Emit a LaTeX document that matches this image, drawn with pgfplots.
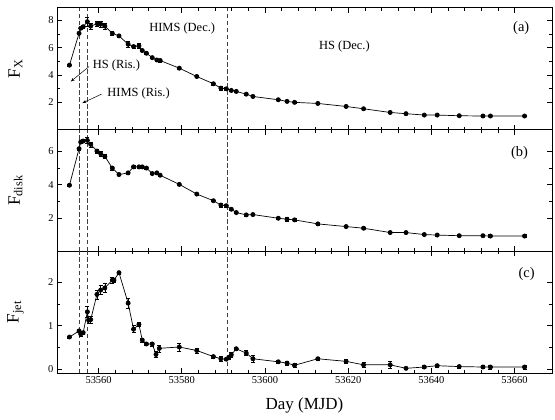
\documentclass[border=0pt]{standalone}
\usepackage{fontspec}
\setmainfont{Liberation Serif}
\usepackage{pgfplots}
\usepackage{pgfplotstable}
\pgfplotsset{compat=1.18}
\usetikzlibrary{arrows.meta}

\pgfplotstableread{
x y e
53553.0 4.72 0.05
53555.3 7.05 0.10
53555.7 7.42 0.10
53556.3 7.53 0.10
53557.3 7.90 0.30
53558.1 7.58 0.20
53559.7 7.75 0.20
53560.5 7.72 0.20
53561.5 7.58 0.20
53563.3 7.05 0.15
53564.9 6.86 0.08
53567.1 6.25 0.20
53568.4 6.08 0.10
53569.7 6.13 0.20
53570.5 5.79 0.08
53571.5 5.59 0.08
53572.9 5.27 0.08
53574.0 5.10 0.08
53574.8 5.06 0.10
53579.4 4.50 0.10
53583.6 3.89 0.08
53587.6 3.36 0.08
53589.4 3.04 0.15
53590.7 2.99 0.10
53591.9 2.87 0.08
53593.1 2.80 0.08
53595.5 2.60 0.08
53597.1 2.43 0.08
53603.2 2.19 0.05
53605.3 2.07 0.05
53607.1 2.00 0.05
53612.7 1.92 0.05
53619.5 1.70 0.05
53623.7 1.53 0.05
53630.1 1.26 0.05
53633.9 1.17 0.05
53638.3 1.07 0.05
53641.4 1.07 0.05
53646.7 1.02 0.05
53652.4 1.00 0.05
53654.2 1.00 0.05
53662.4 1.00 0.05
}\dataX

\pgfplotstableread{
x y e
53553.0 3.97 0.05
53555.3 6.16 0.08
53555.7 6.56 0.08
53556.3 6.62 0.08
53557.3 6.66 0.20
53558.1 6.42 0.15
53559.6 6.02 0.12
53560.5 5.86 0.15
53561.5 5.70 0.12
53563.3 5.00 0.12
53564.9 4.61 0.06
53567.1 4.71 0.06
53568.4 5.07 0.08
53569.7 5.07 0.06
53570.5 5.07 0.06
53571.5 5.00 0.06
53572.9 4.67 0.06
53574.0 4.71 0.06
53574.8 4.57 0.06
53579.4 4.02 0.08
53583.6 3.44 0.06
53587.6 3.04 0.06
53589.4 2.78 0.12
53590.7 2.74 0.08
53591.9 2.53 0.06
53593.1 2.33 0.06
53595.5 2.19 0.06
53597.1 2.21 0.06
53603.2 1.99 0.06
53605.3 1.93 0.10
53607.1 1.89 0.08
53612.7 1.65 0.06
53619.5 1.49 0.06
53623.7 1.39 0.06
53630.1 1.13 0.06
53633.9 1.13 0.06
53638.3 1.01 0.06
53641.4 0.98 0.06
53646.7 0.94 0.06
53652.4 0.94 0.06
53654.2 0.92 0.08
53662.4 0.92 0.08
}\dataD

\pgfplotstableread{
x y e
53553.0 0.74 0.02
53555.3 0.88 0.03
53555.7 0.81 0.06
53556.3 0.84 0.03
53557.3 1.32 0.12
53557.6 1.13 0.08
53558.1 1.14 0.08
53559.6 1.72 0.10
53560.5 1.82 0.10
53561.5 1.87 0.10
53563.3 2.05 0.07
53563.7 2.05 0.05
53564.9 2.22 0.04
53567.1 1.52 0.12
53568.4 0.92 0.08
53569.7 1.03 0.04
53570.5 0.67 0.04
53571.5 0.58 0.04
53572.9 0.58 0.05
53573.8 0.34 0.07
53574.6 0.48 0.08
53579.4 0.51 0.09
53583.6 0.43 0.06
53587.6 0.29 0.03
53589.4 0.24 0.06
53590.7 0.23 0.03
53591.3 0.27 0.03
53591.9 0.33 0.05
53593.1 0.47 0.04
53595.5 0.37 0.06
53597.1 0.24 0.08
53603.2 0.17 0.03
53605.3 0.14 0.05
53607.1 0.09 0.05
53612.7 0.24 0.03
53619.5 0.18 0.04
53623.7 0.10 0.06
53630.1 0.10 0.08
53633.9 0.02 0.03
53638.3 0.05 0.03
53641.4 0.08 0.03
53646.7 0.06 0.03
53652.4 0.05 0.03
53654.2 0.05 0.04
53662.4 0.05 0.05
}\dataJ

\tikzset{
  vd/.style={black!75, line width=0.7pt, dash pattern=on 4.5pt off 2.5pt},
  ann/.style={font=\fontsize{12.5}{14}\selectfont},
  lab/.style={font=\fontsize{14.5}{16}\selectfont},
}

\pgfplotsset{
  panel/.style={
    scale only axis,
    width=495bp, height=121.7bp,
    xmin=53550, xmax=53669,
    xtick={53560,53580,53600,53620,53640,53660},
    scaled x ticks=false,
    scaled y ticks=false,
    minor x tick num=4,
    minor y tick num=1,
    tick align=inside,
    major tick length=5bp,
    minor tick length=3bp,
    axis line style={line width=1pt},
    every tick/.style={black, line width=0.6pt},
    /pgf/number format/assume math mode=true,
    /pgf/number format/1000 sep={},
    xticklabel={\pgfmathprintnumber[fixed,precision=0,1000 sep={}]{\tick}},
    ticklabel style={font=\fontsize{10.5}{12}\selectfont},
    every axis y label/.style={at={(axis description cs:-0.084,0.5)},rotate=90,anchor=center,font=\fontsize{17.5}{20}\selectfont},
    clip=false,
  },
  dat/.style={black, line width=0.7pt, mark=*, mark size=2.1pt, mark options={solid,fill=black},
    error bars/.cd, y dir=both, y explicit, error mark options={rotate=90, mark size=2pt, line width=0.5pt}, error bar style={line width=0.6pt}},
}

\newcommand{\vlines}{%
  \draw[vd] ({axis cs:53555.3,0}|-{rel axis cs:0,0}) -- ({axis cs:53555.3,0}|-{rel axis cs:0,1});
  \draw[vd] ({axis cs:53557.3,0}|-{rel axis cs:0,0}) -- ({axis cs:53557.3,0}|-{rel axis cs:0,1});
  \draw[vd] ({axis cs:53590.9,0}|-{rel axis cs:0,0}) -- ({axis cs:53590.9,0}|-{rel axis cs:0,1});
}

\begin{document}
\begin{tikzpicture}
\useasboundingbox (0,0) rectangle (555bp,420bp);

\begin{axis}[panel, at={(57bp,290.3bp)}, anchor=south west,
  ymin=0, ymax=8.9, ytick={2,4,6,8}, xticklabels={},
  ylabel={F$_{\mathrm{X}}$}]
  \vlines
  \addplot+[dat] table[x=x,y=y,y error=e]{\dataX};
  \node[ann] at (axis cs:53580.1,7.42) {HIMS (Dec.)};
  \node[ann] at (axis cs:53619.1,6.08) {HS (Dec.)};
  \node[lab] at (axis cs:53661.6,7.42) {(a)};
  \node[ann] at (axis cs:53564.3,4.69) {HS (Ris.)};
  \draw[-{Stealth[length=4pt,width=3pt,open]}, line width=0.5pt] (axis cs:53557.7,4.62) -- (axis cs:53553.3,3.52);
  \node[ann] at (axis cs:53569.6,2.68) {HIMS (Ris.)};
  \draw[-{Stealth[length=4pt,width=3pt,open]}, line width=0.5pt] (axis cs:53560.7,2.6) -- (axis cs:53556.1,1.95);
\end{axis}

\begin{axis}[panel, at={(57bp,168.6bp)}, anchor=south west,
  ymin=0, ymax=7.3, ytick={2,4,6}, xticklabels={},
  ylabel={F$_{\mathrm{disk}}$}]
  \vlines
  \addplot+[dat] table[x=x,y=y,y error=e]{\dataD};
  \node[lab] at (axis cs:53661.2,5.9) {(b)};
\end{axis}

\begin{axis}[panel, at={(57bp,46.9bp)}, anchor=south west,
  ymin=-0.09, ymax=2.71, ytick={0,1,2},
  ylabel={F$_{\mathrm{jet}}$},
  xlabel={Day (MJD)},
  xlabel style={at={(axis description cs:0.5,-0.262)},anchor=center,font=\fontsize{17}{19}\selectfont}]
  \vlines
  \addplot+[dat] table[x=x,y=y,y error=e]{\dataJ};
  \node[lab] at (axis cs:53662.9,2.19) {(c)};
\end{axis}
\end{tikzpicture}
\end{document}
